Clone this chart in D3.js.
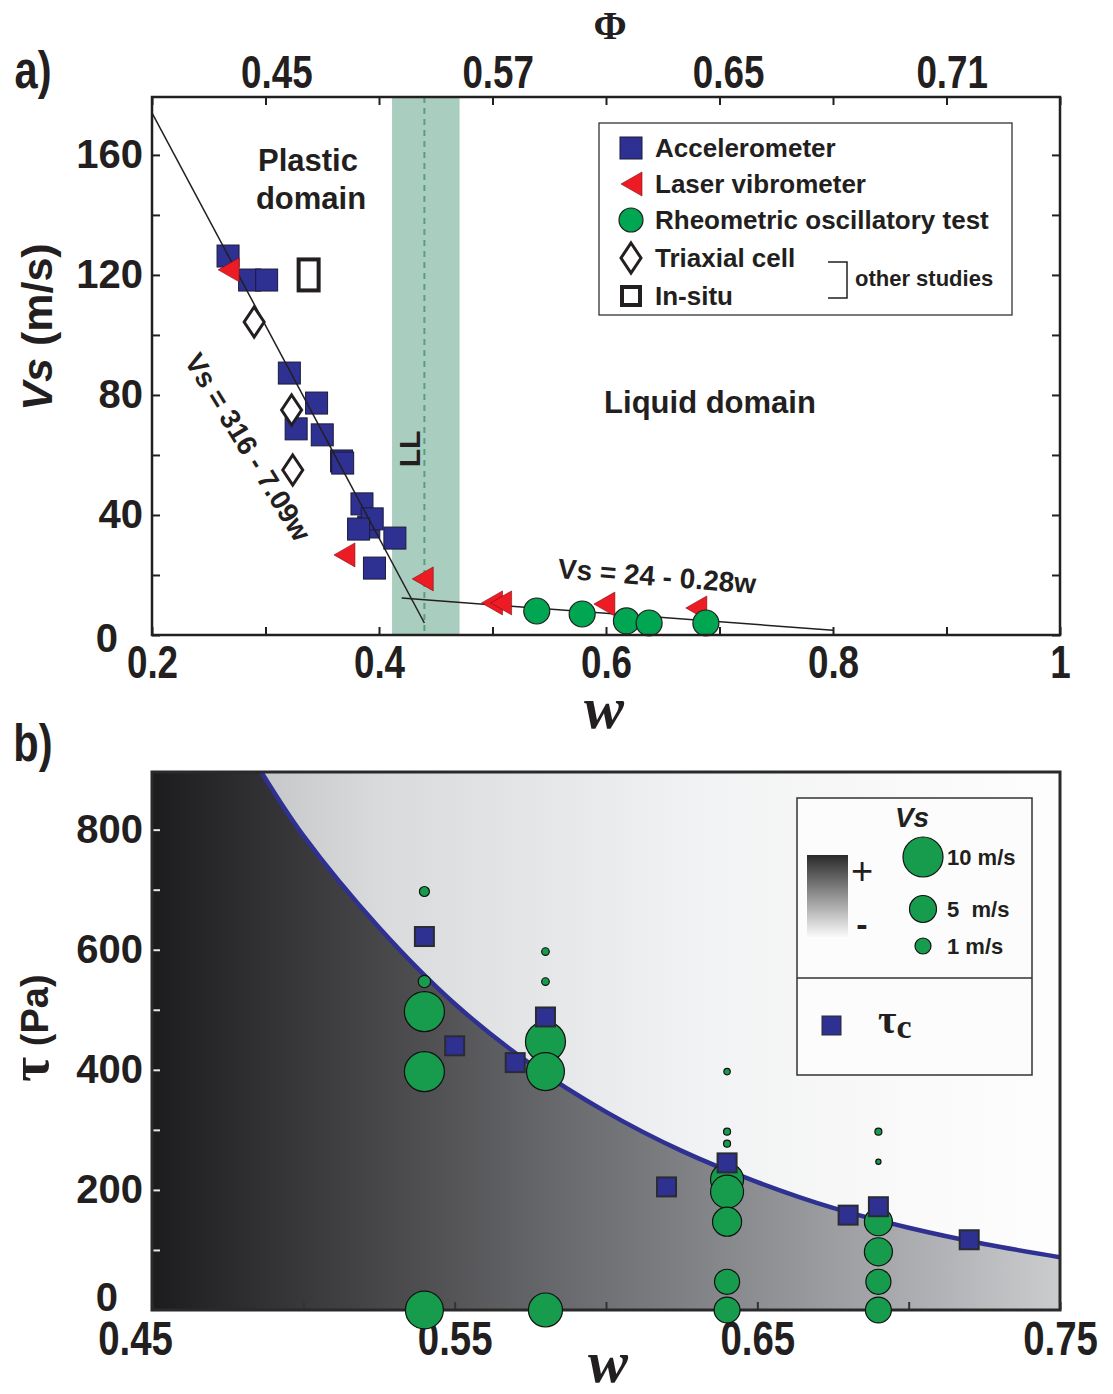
<!DOCTYPE html>
<html><head><meta charset="utf-8">
<script src="https://cdn.jsdelivr.net/npm/d3@7"></script>
<style>body{margin:0;background:#fff;} svg{display:block;}</style>
</head><body>
<svg id="chart" width="1113" height="1394"></svg>
<script>
// ---------- Panel a data ----------
const accW  = [0.267,0.286,0.301,0.321,0.345,0.327,0.350,0.367,0.368,0.385,0.391,0.394,0.382,0.414,0.396];
const accVs = [126.3,118.3,118.3,87.3,77.3,68.7,66.7,58,57.3,43.7,36,38.7,35.3,32.3,22.3];
const laserW  = [0.268,0.370,0.439,0.500,0.508,0.599,0.680];
const laserVs = [121.7,26.7,18.7,10.7,10.7,10.3,9];
const rheoW  = [0.539,0.579,0.618,0.638,0.688];
const rheoVs = [8,7,4.7,4,4];
const triaxW  = [0.290,0.323,0.324];
const triaxVs = [104.3,75,55];
const insituW  = [0.338];
const insituVs = [120];
const fit1W = [0.2,0.44],  fit1Vs = [174,4];
const fit2W = [0.42,0.8],  fit2Vs = [12.3,1.6];
const llBand = [0.4115,0.471];
const llW = 0.44;
const xTicksA = [0.2,0.3,0.4,0.5,0.6,0.7,0.8,0.9,1.0];
const xTickLabelsA = ["0.2","","0.4","","0.6","","0.8","","1"];
const yTicksA = [0,20,40,60,80,100,120,140,160];
const yTickLabelsA = ["0","","40","","80","","120","","160"];
const phiLabels = ["0.45","0.57","0.65","0.71"];
const phiW = [0.31,0.505,0.708,0.905];
const legendA = ["Accelerometer","Laser vibrometer","Rheometric oscillatory test","Triaxial cell","In-situ"];

// ---------- Panel b data ----------
const curveW   = [0.486,0.50,0.525,0.55,0.575,0.60,0.625,0.65,0.675,0.70,0.725,0.75];
const curveTau = [897,790,637,510,410,330,265,213,170,137,110,88];
const tauCW = [0.54,0.55,0.57,0.58,0.62,0.64,0.68,0.69,0.72];
const tauC  = [622,440,412,488,205,245,158,172,117];
const vsW   = [0.54,0.54,0.54,0.54,0.54, 0.58,0.58,0.58,0.58,0.58, 0.64,0.64,0.64,0.64,0.64,0.64,0.64,0.64, 0.69,0.69,0.69,0.69,0.69,0.69];
const vsTau = [697,547,497,397,0, 597,547,447,397,0, 397,297,277,217,197,147,47,0, 297,247,147,97,47,0];
const vsVal = [0.5,0.7,10,10,9.2, 0.3,0.3,10,9.2,7.7, 0.2,0.25,0.25,7.3,7.3,5.8,4.3,4.6, 0.25,0.1,5.4,5.4,4.3,4.6];
const xTicksB = [0.45,0.50,0.55,0.60,0.65,0.70,0.75];
const xTickLabelsB = ["0.45","","0.55","","0.65","","0.75"];
const yTicksB = [0,100,200,300,400,500,600,700,800];
const yTickLabelsB = ["0","","200","","400","","600","","800"];
const legendVs = [10,5,1];
const legendVsLabels = ["10 m/s","5  m/s","1 m/s"];

// ---------- styles ----------
const INK = "#231f20";
const BLUE = "#2e3192";
const RED = "#ed1c24";
const GREEN_A = "#00a651";
const GREEN_B = "#169c4c";
const SANS = "'Liberation Sans', Arial, sans-serif";
const SERIF = "'Liberation Serif', 'Times New Roman', serif";
const NX = 0.8; // horizontal squeeze for condensed labels

const svg = d3.select("#chart");
const defs = svg.append("defs");

function narrow(sel, size){
  sel.each(function(){
    const t = d3.select(this);
    const x = +t.attr("x") || 0;
    t.attr("x", x/NX).attr("transform",`scale(${NX},1)`)
     .style("font-family",SANS).style("font-weight","bold").style("font-size",size+"px").attr("fill",INK);
  });
}

// ================= PANEL A =================
const A = {l:152, r:1060, t:97, b:635};
const xA = d3.scaleLinear().domain([0.2,1]).range([A.l,A.r]);
const yA = d3.scaleLinear().domain([0,179.3]).range([A.b,A.t]);

const gA = svg.append("g");
gA.append("rect").attr("x",xA(llBand[0])).attr("y",A.t)
  .attr("width",xA(llBand[1])-xA(llBand[0])).attr("height",A.b-A.t)
  .attr("fill","#a9cdbf");
gA.append("line").attr("x1",xA(llW)).attr("x2",xA(llW)).attr("y1",A.t).attr("y2",A.b)
  .attr("stroke","#5e9c80").attr("stroke-width",2).attr("stroke-dasharray","6,5");

function styleAxis(g, color, width){
  g.select(".domain").remove();
  g.selectAll(".tick line").attr("stroke",color).attr("stroke-width",width);
  g.attr("font-family",null).attr("font-size",null);
}
const axB = gA.append("g").attr("transform",`translate(0,${A.b})`)
  .call(d3.axisBottom(xA).tickValues(xTicksA).tickSize(-8).tickPadding(10).tickFormat((d,i)=>xTickLabelsA[i]));
styleAxis(axB, INK, 2);
narrow(axB.selectAll("text"), 46);
const axT = gA.append("g").attr("transform",`translate(0,${A.t})`)
  .call(d3.axisTop(xA).tickValues(xTicksA).tickSize(-8).tickFormat(""));
styleAxis(axT, INK, 2);
const axL = gA.append("g").attr("transform",`translate(${A.l},0)`)
  .call(d3.axisLeft(yA).tickValues(yTicksA).tickSize(-8).tickPadding(9).tickFormat((d,i)=>yTickLabelsA[i]));
styleAxis(axL, INK, 2);
axL.selectAll("text").attr("fill",INK).style("font-family",SANS).style("font-weight","bold").style("font-size","40px");
axL.selectAll(".tick").filter(d=>d===0).select("text").attr("x",-34).attr("dy","0.4em");
const axR = gA.append("g").attr("transform",`translate(${A.r},0)`)
  .call(d3.axisRight(yA).tickValues(yTicksA).tickSize(-8).tickFormat(""));
styleAxis(axR, INK, 2);

gA.selectAll("g.phi").data(phiLabels).join("g").attr("class","phi")
  .attr("transform",(d,i)=>`translate(${xA(phiW[i])},88)`)
  .append("text").attr("text-anchor","middle").text(d=>d)
  .call(s=>narrow(s,46));

const accData = accW.map((w,i)=>({w, v:accVs[i]}));
gA.selectAll("rect.acc").data(accData).join("rect").attr("class","acc")
  .attr("x",d=>xA(d.w)-11).attr("y",d=>yA(d.v)-11).attr("width",22).attr("height",22)
  .attr("fill",BLUE).attr("stroke","#1b1b3a").attr("stroke-width",1);

const lineA = d3.line().x(d=>xA(d.w)).y(d=>yA(d.v));
gA.append("path").datum(fit1W.map((w,i)=>({w, v:fit1Vs[i]})))
  .attr("d",lineA).attr("fill","none").attr("stroke",INK).attr("stroke-width",1.5);
gA.append("path").datum(fit2W.map((w,i)=>({w, v:fit2Vs[i]})))
  .attr("d",lineA).attr("fill","none").attr("stroke",INK).attr("stroke-width",1.5);

const diamond = "M0,-15 L10,0 L0,15 L-10,0 Z";
gA.selectAll("path.tri").data(triaxW.map((w,i)=>({w, v:triaxVs[i]}))).join("path").attr("class","tri")
  .attr("transform",d=>`translate(${xA(d.w)},${yA(d.v)})`).attr("d",diamond)
  .attr("fill","#fff").attr("stroke",INK).attr("stroke-width",3);
gA.selectAll("rect.ins").data(insituW.map((w,i)=>({w, v:insituVs[i]}))).join("rect").attr("class","ins")
  .attr("x",d=>xA(d.w)-10).attr("y",d=>yA(d.v)-15.5).attr("width",20).attr("height",31)
  .attr("fill","#fff").attr("stroke",INK).attr("stroke-width",4);

const triLeft = "M-11,0 L10,-12 L10,12 Z";
gA.selectAll("path.las").data(laserW.map((w,i)=>({w, v:laserVs[i]}))).join("path").attr("class","las")
  .attr("transform",d=>`translate(${xA(d.w)},${yA(d.v)})`).attr("d",triLeft)
  .attr("fill",RED).attr("stroke","#7a0d10").attr("stroke-width",0.6);

gA.selectAll("circle.rh").data(rheoW.map((w,i)=>({w, v:rheoVs[i]}))).join("circle").attr("class","rh")
  .attr("cx",d=>xA(d.w)).attr("cy",d=>yA(d.v)).attr("r",13)
  .attr("fill",GREEN_A).attr("stroke",INK).attr("stroke-width",1.2);

gA.append("rect").attr("x",A.l).attr("y",A.t).attr("width",A.r-A.l).attr("height",A.b-A.t)
  .attr("fill","none").attr("stroke",INK).attr("stroke-width",2.5);

const txt = (g,x,y,s,size,opts={}) => g.append("text").attr("x",x).attr("y",y).attr("fill",INK)
  .attr("text-anchor",opts.anchor||"middle").style("font-family",opts.family||SANS)
  .style("font-weight",opts.weight||"bold").style("font-size",size+"px")
  .style("font-style",opts.style||"normal").attr("dy",opts.dy||"0.35em").text(s);
txt(gA,308,160,"Plastic",31);
txt(gA,311,198,"domain",31);
txt(gA,710,402,"Liquid domain",31);
txt(gA,0,0,"LL",30).attr("transform",`translate(409,449) rotate(-90)`);
txt(gA,0,0,"Vs = 316 - 7.09w",28).attr("transform",`translate(248,447) rotate(58.5)`);
txt(gA,0,0,"Vs = 24 - 0.28w",28).attr("transform",`translate(657,576) rotate(4.5)`);

const lg = gA.append("g");
lg.append("rect").attr("x",599).attr("y",123).attr("width",413).attr("height",192)
  .attr("fill","#fff").attr("stroke","#333").attr("stroke-width",1.3);
const lgY = [148,184,220,258,296];
lg.append("rect").attr("x",620).attr("y",lgY[0]-11).attr("width",22).attr("height",22).attr("fill",BLUE).attr("stroke","#1b1b3a");
lg.append("path").attr("transform",`translate(632,${lgY[1]})`).attr("d",triLeft).attr("fill",RED).attr("stroke","#7a0d10").attr("stroke-width",0.6);
lg.append("circle").attr("cx",631).attr("cy",lgY[2]).attr("r",12).attr("fill",GREEN_A).attr("stroke",INK).attr("stroke-width",1.2);
lg.append("path").attr("transform",`translate(631,${lgY[3]})`).attr("d",diamond).attr("fill","#fff").attr("stroke",INK).attr("stroke-width",3);
lg.append("rect").attr("x",622).attr("y",lgY[4]-9).attr("width",18).attr("height",18).attr("fill","#fff").attr("stroke",INK).attr("stroke-width",4);
legendA.forEach((s,i)=> txt(lg,655,lgY[i],s,26,{anchor:"start"}));
lg.append("path").attr("d","M828,262 H847 V298 H828").attr("fill","none").attr("stroke",INK).attr("stroke-width",1.5);
txt(lg,855,278,"other studies",22,{anchor:"start"});

const vsT = svg.append("text").attr("transform","translate(37,327) rotate(-90)")
  .attr("text-anchor","middle").attr("dy","0.35em").attr("fill",INK)
  .style("font-family",SANS).style("font-weight","bold").style("font-size","43px");
vsT.append("tspan").style("font-style","italic").text("Vs");
vsT.append("tspan").text(" (m/s)");
txt(svg,604,716,"w",60,{family:SERIF,style:"italic",dy:"0.2em"});
txt(svg,610,25,"Φ",40,{family:SERIF});
svg.append("g").attr("transform","translate(33,88)").append("text").attr("text-anchor","middle").text("a)").call(s=>narrow(s,52));
svg.append("g").attr("transform","translate(33,761)").append("text").attr("text-anchor","middle").text("b)").call(s=>narrow(s,52));

// ================= PANEL B =================
const B = {l:152, r:1060, t:772, b:1310};
const xB = d3.scaleLinear().domain([0.45,0.75]).range([B.l,B.r]);
const yB = d3.scaleLinear().domain([0,896]).range([B.b,B.t]);
const gB = svg.append("g");

const gl = defs.append("linearGradient").attr("id","gLight").attr("gradientUnits","userSpaceOnUse")
  .attr("x1",B.l).attr("x2",B.r).attr("y1",0).attr("y2",0);
[[0,"#b0b1b3"],[0.12,"#c6c7c9"],[0.25,"#d9dadc"],[0.47,"#e8e9eb"],[0.6,"#f1f2f3"],[0.85,"#fafafa"],[1,"#fdfdfd"]]
  .forEach(([o,c])=>gl.append("stop").attr("offset",o).attr("stop-color",c));
const gd = defs.append("linearGradient").attr("id","gDark").attr("gradientUnits","userSpaceOnUse")
  .attr("x1",B.l).attr("x2",B.r).attr("y1",0).attr("y2",0);
[[0,"#1c1b1d"],[0.27,"#4a4a4d"],[0.47,"#6c6d70"],[0.54,"#77787b"],[0.85,"#aeafb2"],[1,"#cbccce"]]
  .forEach(([o,c])=>gd.append("stop").attr("offset",o).attr("stop-color",c));
const gv = defs.append("linearGradient").attr("id","gVert").attr("x1",0).attr("x2",0).attr("y1",0).attr("y2",1);
[[0,"#2a2a2b"],[1,"#ffffff"]].forEach(([o,c])=>gv.append("stop").attr("offset",o).attr("stop-color",c));
defs.append("clipPath").attr("id","clipB").append("rect")
  .attr("x",B.l).attr("y",B.t).attr("width",B.r-B.l).attr("height",B.b-B.t);

gB.append("rect").attr("x",B.l).attr("y",B.t).attr("width",B.r-B.l).attr("height",B.b-B.t).attr("fill","url(#gLight)");
const curveData = curveW.map((w,i)=>({w, t:curveTau[i]}));
const curveGen = d3.line().x(d=>xB(d.w)).y(d=>yB(d.t)).curve(d3.curveCatmullRom);
const curvePath = curveGen(curveData);
gB.append("path").attr("clip-path","url(#clipB)")
  .attr("d", curvePath + `L${B.r},${B.b}L${B.l},${B.b}L${B.l},${B.t}Z`)
  .attr("fill","url(#gDark)");
gB.append("path").attr("clip-path","url(#clipB)").attr("d",curvePath)
  .attr("fill","none").attr("stroke","#2e3192").attr("stroke-width",4.5);

const bxB = gB.append("g").attr("transform",`translate(0,${B.b})`)
  .call(d3.axisBottom(xB).tickValues(xTicksB).tickSize(-8).tickPadding(11).tickFormat((d,i)=>xTickLabelsB[i]));
styleAxis(bxB, "#333", 2);
bxB.selectAll(".tick").filter(d=>d===0.45).select("text").attr("x",-17);
narrow(bxB.selectAll("text"), 48);
const byB = gB.append("g").attr("transform",`translate(${B.l},0)`)
  .call(d3.axisLeft(yB).tickValues(yTicksB).tickSize(-8).tickPadding(9).tickFormat((d,i)=>yTickLabelsB[i]));
styleAxis(byB, "#e6e6e6", 2);
byB.selectAll("text").attr("fill",INK).style("font-family",SANS).style("font-weight","bold").style("font-size","40px");
byB.selectAll(".tick").filter(d=>d===0).select("text").attr("x",-34).attr("dy","0.0em");

gB.append("rect").attr("x",B.l).attr("y",B.t).attr("width",B.r-B.l).attr("height",B.b-B.t)
  .attr("fill","none").attr("stroke","#2a2a2a").attr("stroke-width",3);

const rScale = d3.scaleLinear().domain([0,1,5,10]).range([2,8,13.5,20]);
gB.selectAll("circle.vs").data(vsW.map((w,i)=>({w, t:vsTau[i], v:vsVal[i]}))).join("circle").attr("class","vs")
  .attr("cx",d=>xB(d.w)).attr("cy",d=>yB(d.t)).attr("r",d=>rScale(d.v))
  .attr("fill",GREEN_B).attr("stroke","#111").attr("stroke-width",1.2);
gB.selectAll("rect.tc").data(tauCW.map((w,i)=>({w, t:tauC[i]}))).join("rect").attr("class","tc")
  .attr("x",d=>xB(d.w)-9.5).attr("y",d=>yB(d.t)-9.5).attr("width",19).attr("height",19)
  .attr("fill",BLUE).attr("stroke","#2b2b33").attr("stroke-width",2);

const lb = gB.append("g");
lb.append("rect").attr("x",797).attr("y",798).attr("width",235).attr("height",277)
  .attr("fill","#fcfcfc").attr("stroke","#333").attr("stroke-width",1.5);
lb.append("line").attr("x1",797).attr("x2",1032).attr("y1",978).attr("y2",978).attr("stroke","#333").attr("stroke-width",1.5);
txt(lb,912,817,"Vs",28,{style:"italic"});
lb.append("rect").attr("x",807).attr("y",855).attr("width",41).attr("height",84).attr("fill","url(#gVert)");
txt(lb,862,871,"+",38,{weight:"normal"});
txt(lb,862,924,"-",34);
const lvY = [857,909,946];
legendVs.forEach((v,i)=>{
  lb.append("circle").attr("cx",923).attr("cy",lvY[i]).attr("r",rScale(v))
    .attr("fill",GREEN_B).attr("stroke","#111").attr("stroke-width",1.2);
  txt(lb,947,lvY[i],legendVsLabels[i],22,{anchor:"start"}).style("white-space","pre");
});
lb.append("rect").attr("x",822).attr("y",1016).attr("width",19).attr("height",19).attr("fill",BLUE).attr("stroke","#2b2b33").attr("stroke-width",1);
const tcT = lb.append("text").attr("x",878).attr("y",1033).attr("fill",INK)
  .style("font-family",SERIF).style("font-weight","bold").style("font-size","40px");
tcT.append("tspan").text("τ");
tcT.append("tspan").attr("dy",5).style("font-size","34px").text("c");

const tauT = svg.append("text").attr("transform","translate(42,1028) rotate(-90)")
  .attr("text-anchor","middle").attr("dy","0.35em").attr("fill",INK)
  .style("font-weight","bold");
tauT.append("tspan").style("font-family",SERIF).style("font-size","54px").text("τ");
tauT.append("tspan").style("font-family",SANS).style("font-size","38px").text(" (Pa)");
txt(svg,608,1370,"w",60,{family:SERIF,style:"italic",dy:"0.2em"});
</script>
</body></html>
